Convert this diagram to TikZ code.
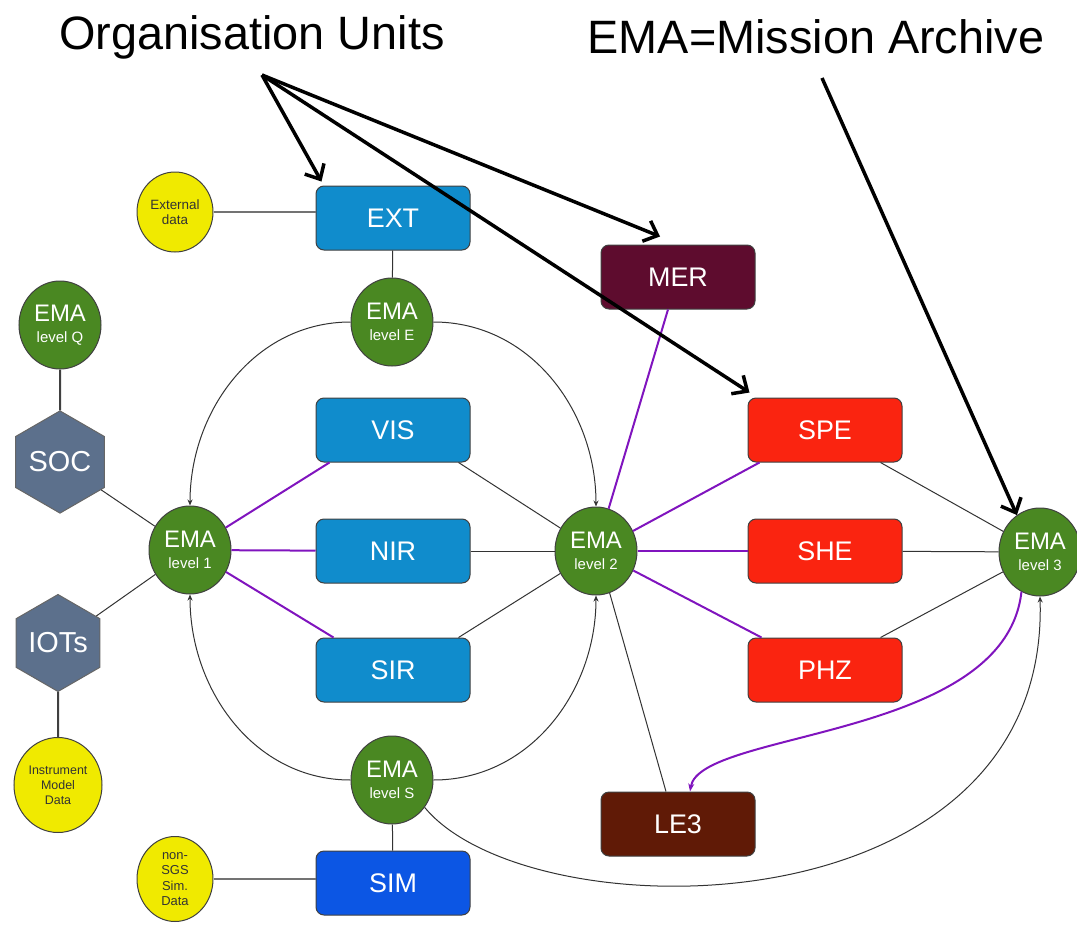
\documentclass[tikz,border=0pt]{standalone}
\usepackage{fontspec}
\setmainfont{Liberation Sans}
\usetikzlibrary{shapes.geometric, arrows.meta}
\definecolor{boxblue}{RGB}{16,140,204}
\definecolor{simblue}{RGB}{12,86,228}
\definecolor{merred}{RGB}{94,12,46}
\definecolor{boxred}{RGB}{250,36,16}
\definecolor{lebrown}{RGB}{96,26,6}
\definecolor{emagreen}{RGB}{74,136,34}
\definecolor{dataylw}{RGB}{240,234,0}
\definecolor{hexgray}{RGB}{92,112,140}
\definecolor{linkpurple}{RGB}{128,20,190}
\newcommand{\lvlfont}{\fontsize{15}{17}\selectfont}
\begin{document}
\begin{tikzpicture}[x=1bp,y=-1bp,
  title/.style={font=\fontsize{47}{50}\selectfont, text=black, inner sep=0pt},
  unit/.style={rectangle, rounded corners=8bp, minimum width=154bp, minimum height=64bp,
    draw=black!75, line width=1bp, text=white, font=\fontsize{27}{30}\selectfont},
  ema/.style={ellipse, minimum width=82bp, minimum height=88bp, inner sep=0pt,
    fill=emagreen, draw=black!75, line width=1bp, text=white, align=center,
    font=\fontsize{24}{24}\selectfont},
  data/.style={ellipse, fill=dataylw, draw=black!75, line width=1bp, inner sep=0pt,
    align=center, text=black!80, font=\fontsize{13.5}{15.5}\selectfont},
  hex/.style={regular polygon, regular polygon sides=6, shape border rotate=30,
    minimum size=94bp, inner sep=0pt, fill=hexgray, draw=black!60, line width=1bp,
    text=white, font=\fontsize{29}{30}\selectfont},
  link/.style={draw=black!80, line width=1bp},
  hlink/.style={draw=black!75, line width=2bp},
  glink/.style={draw=black!55, line width=2bp},
  plink/.style={draw=linkpurple, line width=2bp},
  arc/.style={draw=black!80, line width=1bp, -{Stealth[length=6bp,width=5bp]}},
  big/.style={draw=black, line width=3.5bp, -{Straight Barb[length=12bp,width=22bp]}}
]
\useasboundingbox (0,0) rectangle (1077,926);

% titles
\node[title] (outitle) at (252,37) {Organisation Units};
\node[title] (ematitle) at (816,37) {EMA=Mission Archive};
\coordinate (oufoot) at (262,75);
\coordinate (emafoot) at (822,78);

% nodes
\node[data, minimum width=76bp, minimum height=80bp] (extdata) at (175,212) {External\\data};
\node[unit, fill=boxblue] (ext) at (393,218) {EXT};
\node[unit, fill=merred] (mer) at (678,277) {MER};
\node[ema] (ema0) at (60,325) {EMA\\[-3bp]{\lvlfont level Q}};
\node[ema] (emaE) at (392,322) {EMA\\[-3bp]{\lvlfont level E}};
\node[hex] (soc) at (60,462) {SOC};
\node[unit, fill=boxblue] (vis) at (393,430) {VIS};
\node[unit, fill=boxred] (spe) at (825,430) {SPE};
\node[ema] (ema1) at (190,550) {EMA\\[-3bp]{\lvlfont level 1}};
\node[unit, fill=boxblue] (nir) at (393,551) {NIR};
\node[ema] (ema2) at (596,551) {EMA\\[-3bp]{\lvlfont level 2}};
\node[unit, fill=boxred] (she) at (825,551) {SHE};
\node[ema] (ema3) at (1040,552) {EMA\\[-3bp]{\lvlfont level 3}};
\node[hex] (iots) at (58,643) {IOTs};
\node[unit, fill=boxblue] (sir) at (393,670) {SIR};
\node[unit, fill=boxred] (phz) at (825,670) {PHZ};
\node[data, minimum width=88bp, minimum height=95bp, font=\fontsize{12.5}{15}\selectfont] (imd) at (58,785) {Instrument\\Model\\Data};
\node[ema] (emaS) at (392,780) {EMA\\[-3bp]{\lvlfont level S}};
\node[unit, fill=lebrown] (le3) at (678,824) {LE3};
\node[data, minimum width=76bp, minimum height=85bp, font=\fontsize{13}{15.5}\selectfont] (nonsgs) at (175,879) {non-\\SGS\\Sim.\\Data};
\node[unit, fill=simblue] (sim) at (393,883) {SIM};

% plain links
\draw[glink] (extdata.east) -- (extdata.east -| ext.west);
\draw[link] (ext) -- (emaE);
\draw[hlink] (ema0) -- (soc);
\draw[link] (soc) -- (ema1);
\draw[link] (iots) -- (ema1);
\draw[hlink] (iots) -- (imd);
\draw[link] (emaS) -- (sim);
\draw[glink] (nonsgs.east) -- (nonsgs.east -| sim.west);

\draw[link] ([xshift=-12bp]vis.south east) -- (ema2);
\draw[link] (nir) -- (ema2);
\draw[link] ([xshift=-12bp]sir.north east) -- (ema2);
\draw[link] ([xshift=-22bp]spe.south east) -- (ema3);
\draw[link] (she) -- (ema3);
\draw[link] ([xshift=-22bp]phz.north east) -- (ema3);
\draw[link] (ema2.-72) -- ([xshift=-12bp]le3.north);

% purple links
\draw[plink] (ema1) -- ([xshift=14bp]vis.south west);
\draw[plink] (ema1) -- (nir);
\draw[plink] (ema1) -- ([xshift=18bp]sir.north west);
\draw[plink] (ema2) -- ([xshift=-10bp]mer.south);
\draw[plink] (ema2) -- ([xshift=12bp]spe.south west);
\draw[plink] (ema2) -- (she);
\draw[plink] (ema2) -- ([xshift=14bp]phz.north west);
\draw[plink, -{Stealth[length=8bp,width=6bp]}] (ema3.-115) .. controls (1005,740) and (700,730) .. ([xshift=12bp]le3.north);

% arcs
\draw[arc] (emaE.west) to[out=180,in=90] (ema1.north);
\draw[arc] (emaE.east) to[out=0,in=90] (ema2.north);
\draw[arc] (emaS.west) to[out=180,in=-90] (ema1.south);
\draw[arc] (emaS.east) to[out=0,in=-90] (ema2.south);
\draw[arc] (emaS.-40) .. controls (530,935) and (1050,935) .. (ema3.south);

% big annotation arrows
\draw[big] (oufoot) -- ([xshift=6bp,yshift=4bp]ext.north west);
\draw[big] (oufoot) -- ([xshift=-18bp,yshift=8bp]mer.north);
\draw[big] (oufoot) -- ([xshift=2bp,yshift=5bp]spe.north west);
\draw[big] (emafoot) -- (ema3.122);
\end{tikzpicture}
\end{document}
